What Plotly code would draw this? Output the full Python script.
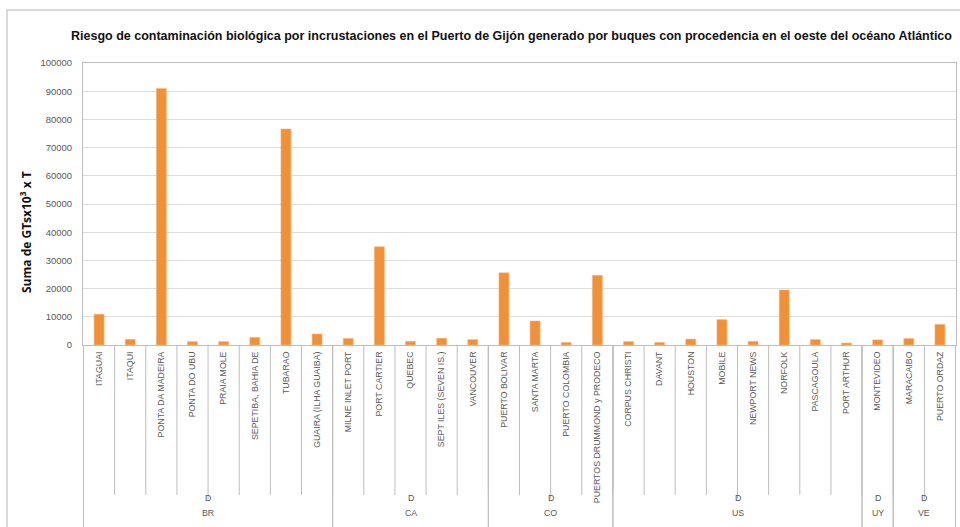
import plotly.graph_objects as go

# Ports, grouped by country (every port belongs to destination level "D")
ports = [
    "ITAGUAI", "ITAQUI", "PONTA DA MADEIRA", "PONTA DO UBU", "PRAIA MOLE",
    "SEPETIBA, BAHIA DE", "TUBARAO", "GUAIRA (ILHA GUAIBA)",
    "MILNE INLET PORT", "PORT CARTIER", "QUEBEC", "SEPT ILES (SEVEN IS.)", "VANCOUVER",
    "PUERTO BOLIVAR", "SANTA MARTA", "PUERTO COLOMBIA", "PUERTOS DRUMMOND y PRODECO",
    "CORPUS CHRISTI", "DAVANT", "HOUSTON", "MOBILE", "NEWPORT NEWS", "NORFOLK",
    "PASCAGOULA", "PORT ARTHUR",
    "MONTEVIDEO",
    "MARACAIBO", "PUERTO ORDAZ",
]
risk = [
    10900, 2000, 91000, 1200, 1200, 2700, 76600, 3900,
    2300, 34800, 1300, 2400, 1900,
    25600, 8500, 900, 24700,
    1200, 900, 2100, 9000, 1300, 19500, 1900, 700,
    1800,
    2300, 7300,
]
countries = ["BR", "CA", "CO", "US", "UY", "VE"]
ports_per_country = [8, 5, 4, 8, 1, 2]
level_label = "D"

title = ("Riesgo de contaminación biológica por incrustaciones en el Puerto de Gijón "
         "generado por buques con procedencia en el oeste del océano Atlántico")
y_title = "Suma de GTsx10<sup>3</sup> x T"
y_ticks = list(range(0, 100001, 10000))

W, H = 960, 527
ML, MR, MT, MB = 83, 4, 63, 182
PLOT_W = W - ML - MR
PLOT_H = H - MT - MB

BAR = "#F0913A"
GRID = "#dedede"
FRAME = "#bdbdbd"
TXT = "#595959"
FONT = "Liberation Sans, Arial, sans-serif"


def px(px_from_left):
    """Convert a pixel column to paper x."""
    return (px_from_left - ML) / PLOT_W


def py(px_from_top):
    """Convert a pixel row (from the top of the page) to paper y."""
    return (H - MB - px_from_top) / PLOT_H


fig = go.Figure(go.Bar(
    x=ports, y=risk,
    marker=dict(color=BAR, line=dict(color="#f6b57c", width=0.6)),
))

shapes = []
# divider lines between individual ports
for i in range(len(ports) + 1):
    shapes.append(dict(type="line", xref="x", yref="paper",
                       x0=i - 0.5, x1=i - 0.5, y0=0, y1=py(495),
                       line=dict(color=FRAME, width=1)))

# country group dividers and labels
annotations = []
start = 0
for name, n in zip(countries, ports_per_country):
    left, right = start - 0.5, start + n - 0.5
    for xb in (left, right):
        shapes.append(dict(type="line", xref="x", yref="paper",
                           x0=xb, x1=xb, y0=0, y1=py(530),
                           line=dict(color=FRAME, width=1)))
    center = (left + right) / 2
    if n % 2 == 0:
        shapes.append(dict(type="line", xref="x", yref="paper",
                           x0=center, x1=center, y0=py(495), y1=py(499),
                           line=dict(color=FRAME, width=1)))
    annotations.append(dict(x=center, y=py(505), xref="x", yref="paper",
                            text=level_label, showarrow=False,
                            font=dict(family=FONT, size=8.8, color="#555555")))
    annotations.append(dict(x=center, y=py(520), xref="x", yref="paper",
                            text=name, showarrow=False,
                            font=dict(family=FONT, size=8.8, color=TXT)))
    start += n

# outer chart border
shapes.append(dict(type="rect", xref="paper", yref="paper",
                   x0=px(7), x1=1.05, y0=py(540), y1=py(10),
                   line=dict(color="#d9d9d9", width=2), layer="below"))

annotations.append(dict(x=px(511), y=py(36), xref="paper", yref="paper",
                        text=f"<b>{title}</b>", showarrow=False,
                        xanchor="center", yanchor="middle",
                        font=dict(family=FONT, size=12.5, color="#111111")))
annotations.append(dict(x=px(26), y=py(232), xref="paper", yref="paper",
                        text=f"<b>{y_title}</b>", showarrow=False, textangle=-90,
                        xanchor="center", yanchor="middle",
                        font=dict(family="Open Sans, sans-serif", size=12, color="#111111")))

fig.update_layout(
    width=W, height=H,
    margin=dict(l=ML, r=MR, t=MT, b=MB, pad=0),
    paper_bgcolor="white", plot_bgcolor="white",
    showlegend=False, bargap=0.68,
    shapes=shapes, annotations=annotations,
    xaxis=dict(type="category", tickangle=-90, ticks="",
               tickfont=dict(family=FONT, size=8.8, color=TXT),
               showline=True, linecolor=FRAME, mirror=True,
               showgrid=False, ticklabelstandoff=2),
    yaxis=dict(range=[0, 100000], tickvals=y_ticks, ticktext=[str(v) for v in y_ticks],
               tickfont=dict(family=FONT, size=9.5, color=TXT),
               showline=True, linecolor=FRAME, mirror=True,
               showgrid=True, gridcolor=GRID, gridwidth=1,
               zeroline=False, ticks="", ticklabelstandoff=8),
)

fig.write_html("out.html")
